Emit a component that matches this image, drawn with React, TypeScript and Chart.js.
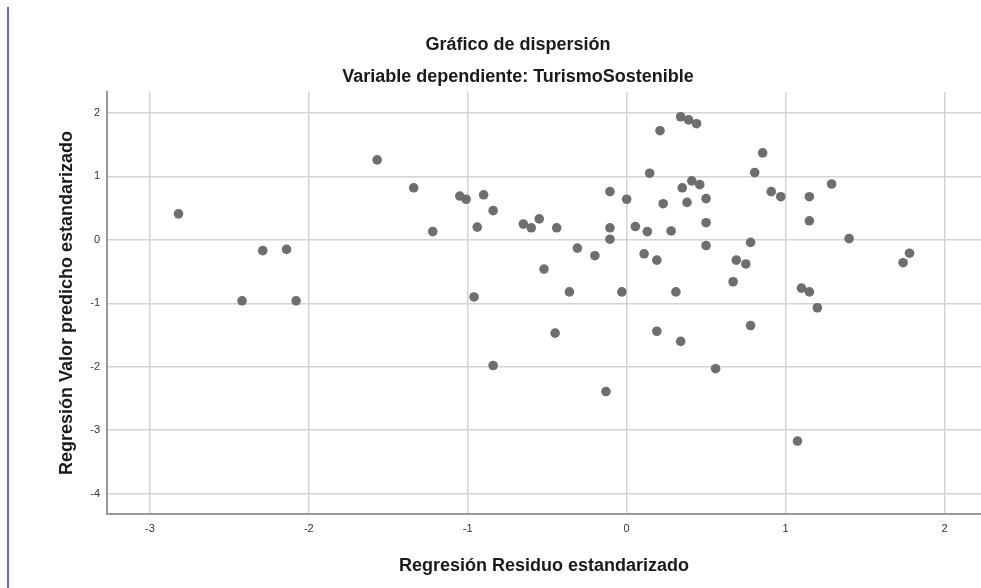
import React, { useEffect, useRef } from "react";
import { Chart, registerables } from "chart.js";

Chart.register(...registerables);

const titleText = "Gráfico de dispersión";
const subtitleText = "Variable dependiente: TurismoSostenible";
const xAxisTitle = "Regresión Residuo estandarizado";
const yAxisTitle = "Regresión Valor predicho estandarizado";

// Standardized residual (x) values
const residuals: number[] = [
  -2.82, -2.42, -2.29, -2.14, -2.08, -1.57, -1.34, -1.22, -1.05, -1.01,
  -0.9, -0.84, -0.94, -0.96, -0.84, -0.65, -0.6, -0.55, -0.44, -0.52,
  -0.31, -0.2, -0.36, -0.45, -0.105, -0.105, -0.105, -0.13, 0.0, -0.03,
  0.055, 0.11, 0.13, 0.145, 0.19, 0.19, 0.21, 0.23, 0.28, 0.31,
  0.34, 0.34, 0.35, 0.38, 0.39, 0.41, 0.44, 0.46, 0.5, 0.5,
  0.5, 0.56, 0.67, 0.69, 0.75, 0.78, 0.78, 0.806, 0.856, 0.91,
  0.97, 1.075, 1.1, 1.15, 1.15, 1.15, 1.2, 1.29, 1.4, 1.74, 1.78,
];

// Standardized predicted (y) values
const predicted: number[] = [
  0.41, -0.96, -0.17, -0.15, -0.96, 1.26, 0.82, 0.13, 0.69, 0.64,
  0.71, 0.46, 0.2, -0.9, -1.98, 0.25, 0.19, 0.33, 0.19, -0.46,
  -0.13, -0.25, -0.82, -1.47, 0.76, 0.19, 0.01, -2.39, 0.64, -0.82,
  0.21, -0.22, 0.13, 1.05, -0.32, -1.44, 1.72, 0.57, 0.14, -0.82,
  1.94, -1.6, 0.82, 0.59, 1.89, 0.93, 1.83, 0.87, 0.65, 0.27,
  -0.09, -2.03, -0.66, -0.32, -0.38, -0.04, -1.35, 1.06, 1.37, 0.76,
  0.68, -3.17, -0.76, 0.68, 0.3, -0.82, -1.07, 0.88, 0.02, -0.36, -0.21,
];

const xRange = { min: -3.27, max: 2.23 };
const yRange = { min: -4.32, max: 2.33 };

const leftBarPlugin = {
  id: "leftBar",
  beforeDraw(chart: any) {
    const ctx = chart.ctx;
    ctx.save();
    ctx.fillStyle = "#ffffff";
    ctx.fillRect(0, 0, chart.width, chart.height);
    ctx.fillStyle = "#6b64d2";
    ctx.fillRect(7, 7, 2, chart.height - 7);
    ctx.restore();
  },
};

export default function App() {
  const canvasRef = useRef<HTMLCanvasElement | null>(null);

  useEffect(() => {
    if (!canvasRef.current) return;
    const points = residuals.map((x, i) => ({ x, y: predicted[i] }));
    const font = "'Liberation Sans', Arial, sans-serif";
    const titleFont = { family: font, size: 18, weight: "bold" as const, lineHeight: 1.2 };
    const chart = new Chart(canvasRef.current, {
      type: "scatter",
      data: {
        datasets: [
          {
            data: points,
            backgroundColor: "#6e6e6e",
            borderWidth: 0,
            pointRadius: 4.8,
            pointHoverRadius: 4.8,
          },
        ],
      },
      plugins: [leftBarPlugin],
      options: {
        responsive: false,
        animation: false,
        events: [],
        layout: { autoPadding: false, padding: { left: 55, right: 0, top: 0, bottom: 0 } },
        plugins: {
          legend: { display: false },
          tooltip: { enabled: false },
          title: {
            display: true,
            text: titleText,
            color: "#1a1a1a",
            font: titleFont,
            padding: { top: 34.2, bottom: 5.2 },
          },
          subtitle: {
            display: true,
            text: subtitleText,
            color: "#1a1a1a",
            font: titleFont,
            padding: { top: 5.2, bottom: 4.2 },
          },
        },
        scales: {
          x: {
            type: "linear",
            min: xRange.min,
            max: xRange.max,
            afterFit: (scale: any) => {
              scale.height = 74;
              scale.paddingRight = 0;
              scale.paddingLeft = 0;
            },
            ticks: {
              stepSize: 1,
              includeBounds: false,
              color: "#333333",
              padding: 8,
              font: { family: font, size: 11 },
            },
            grid: { color: "#d4d4d4", lineWidth: 1.5, drawTicks: false },
            border: { display: true, color: "#999999", width: 2 },
            title: {
              display: true,
              text: xAxisTitle,
              color: "#1a1a1a",
              font: titleFont,
              padding: { top: 0, bottom: 10.7 },
            },
          },
          y: {
            type: "linear",
            min: yRange.min,
            max: yRange.max,
            afterFit: (scale: any) => {
              scale.width = 52;
            },
            ticks: {
              stepSize: 1,
              includeBounds: false,
              color: "#333333",
              padding: 7,
              font: { family: font, size: 11 },
            },
            grid: { color: "#d4d4d4", lineWidth: 1.5, drawTicks: false },
            border: { display: true, color: "#999999", width: 2 },
            title: {
              display: true,
              text: yAxisTitle,
              color: "#1a1a1a",
              font: titleFont,
              padding: { top: 1.2, bottom: 0 },
            },
          },
        },
      },
    });
    return () => chart.destroy();
  }, []);

  return (
    <div style={{ position: "fixed", left: 0, top: 0, width: 981, height: 588, background: "#fff" }}>
      <canvas ref={canvasRef} width={981} height={588} style={{ display: "block" }} />
    </div>
  );
}
